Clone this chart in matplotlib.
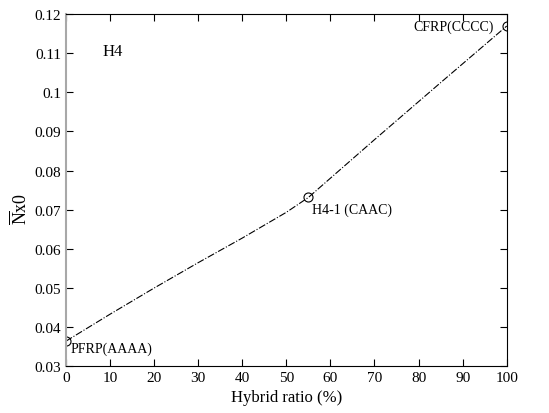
import matplotlib
matplotlib.use('Agg')
import matplotlib.pyplot as plt

plt.rcParams['font.family'] = 'Liberation Serif'
plt.rcParams['mathtext.fontset'] = 'custom'
plt.rcParams['mathtext.rm'] = 'Liberation Serif'

# hybrid ratio (%) vs Nx0
ratio = [0, 10, 20, 30, 40, 50, 55, 70, 85, 100]
nx0 = [0.0363, 0.0432, 0.0499, 0.0564, 0.0627, 0.0693, 0.0731, 0.0879, 0.1025, 0.1170]

mark_ratio = [0, 55, 100]
mark_nx0 = [0.0363, 0.0731, 0.1170]
mark_labels = ['PFRP(AAAA)', 'H4-1 (CAAC)', 'CFRP(CCCC)']

fig = plt.figure(figsize=(5.49, 4.14), dpi=100)
ax = fig.add_axes([0.120, 0.114, 0.803, 0.849])

ax.plot(ratio, nx0, color='black', linestyle='-.', linewidth=0.8)
ax.plot(mark_ratio, mark_nx0, linestyle='none', marker='o', markersize=6.5,
        markerfacecolor='none', markeredgecolor='black', markeredgewidth=0.8)

ax.text(1.0, 0.0345, mark_labels[0], fontsize=10, ha='left', va='center')
ax.text(55.8, 0.0702, mark_labels[1], fontsize=10, ha='left', va='center')
ax.text(97.0, 0.1170, mark_labels[2], fontsize=10, ha='right', va='center')
ax.text(8.3, 0.1107, 'H4', fontsize=12, ha='left', va='center')

ax.set_xlim(0, 100)
ax.set_ylim(0.03, 0.12)
ax.set_xticks(range(0, 101, 10))
ax.set_yticks([0.03, 0.04, 0.05, 0.06, 0.07, 0.08, 0.09, 0.1, 0.11, 0.12])
ax.set_yticklabels(['0.03', '0.04', '0.05', '0.06', '0.07', '0.08', '0.09', '0.1', '0.11', '0.12'])
ax.tick_params(direction='in', top=True, right=True, length=5, width=0.8, labelsize=11)

ax.set_xlabel('Hybrid ratio (%)', fontsize=12)
ax.set_ylabel(r'$\mathrm{\overline{N}x0}$', fontsize=13)
ax.yaxis.set_label_coords(-0.08, 0.45)

for s in ['top', 'right', 'bottom']:
    ax.spines[s].set_linewidth(0.8)
ax.spines['left'].set_color('#a8a8a8')
ax.spines['left'].set_linewidth(1.5)

fig.savefig('out.png', dpi=100)
